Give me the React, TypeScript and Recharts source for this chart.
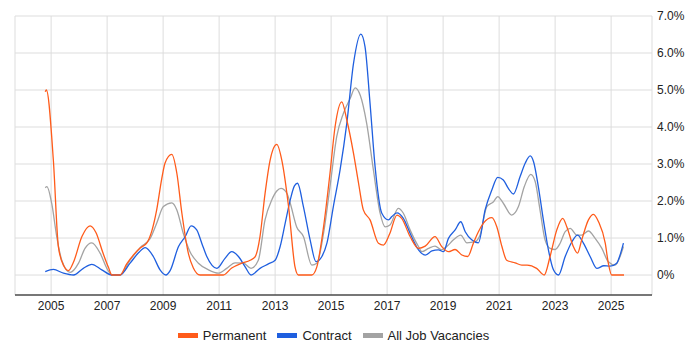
import React from "react";
import {
  LineChart,
  Line,
  XAxis,
  YAxis,
  CartesianGrid,
  Legend,
} from "recharts";

// values, per series (year -> % of vacancies)
const permYears = [
  2004.79, 2004.83, 2005.08, 2005.26, 2005.45, 2005.62, 2005.8, 2006.1, 2006.39, 2006.6,
  2006.85, 2007.05, 2007.17, 2007.46, 2007.7, 2007.95, 2008.18, 2008.42, 2008.6, 2008.77,
  2008.95, 2009.07, 2009.31, 2009.49, 2009.67, 2009.9, 2010.08, 2010.32, 2011.15, 2011.45,
  2011.81, 2012.11, 2012.29, 2012.46, 2012.64, 2012.82, 2013.06, 2013.24, 2013.48, 2013.71,
  2013.83, 2014.31, 2014.49, 2014.73, 2014.96, 2015.14, 2015.38, 2015.56, 2015.8, 2015.98,
  2016.15, 2016.39, 2016.69, 2016.87, 2017.1, 2017.35, 2017.52, 2017.82, 2018.12, 2018.36,
  2018.71, 2018.95, 2019.19, 2019.43, 2019.67, 2019.88, 2020.08, 2020.26, 2020.44, 2020.74,
  2020.92, 2021.1, 2021.27, 2021.57, 2021.81, 2022.0, 2022.34, 2022.61, 2022.82, 2023.06,
  2023.27, 2023.42, 2023.65, 2023.8, 2023.95, 2024.19, 2024.37, 2024.55, 2024.79, 2024.9,
  2025.02, 2025.46,
];
const permValues = [
  4.95, 5.0, 3.1, 0.76, 0.25, 0.12, 0.35, 1.04, 1.33, 1.15,
  0.6, 0.2, 0, 0, 0.3, 0.55, 0.73, 0.87, 1.2, 1.76,
  2.6, 3.03, 3.26, 2.75, 1.67, 0.59, 0.19, 0, 0, 0.19,
  0.32, 0.4, 0.5, 1.04, 2.2, 3.1, 3.53, 3.1, 1.85, 0.22,
  0, 0, 0.22, 1.3, 2.75, 4.0, 4.68, 4.19, 3.29, 2.48,
  1.76, 1.49, 0.86, 0.81, 1.13, 1.62, 1.53, 1.04, 0.72, 0.78,
  1.04, 0.77, 0.63, 0.69, 0.54, 0.5, 0.86, 1.17, 1.4, 1.55,
  1.3, 0.77, 0.4, 0.33, 0.27, 0.27, 0.18, 0, 0.5, 1.22,
  1.53, 1.3, 0.77, 0.59, 0.95, 1.49, 1.64, 1.44, 0.86, 0.32,
  0, 0,
];

const contractYears = [
  2004.79, 2005.08, 2005.44, 2005.8, 2006.15, 2006.45, 2006.81, 2007.17, 2007.46, 2007.82,
  2008.12, 2008.36, 2008.65, 2008.89, 2009.1, 2009.25, 2009.55, 2009.79, 2010.0, 2010.2,
  2010.38, 2010.56, 2010.92, 2011.21, 2011.45, 2011.69, 2011.93, 2012.14, 2012.46, 2012.76,
  2013.0, 2013.18, 2013.36, 2013.54, 2013.69, 2013.8, 2014.01, 2014.25, 2014.46, 2014.67,
  2014.85, 2015.08, 2015.32, 2015.56, 2015.8, 2016.06, 2016.21, 2016.39, 2016.57, 2016.81,
  2017.05, 2017.17, 2017.35, 2017.58, 2017.82, 2018.12, 2018.36, 2018.6, 2018.83, 2019.01,
  2019.19, 2019.43, 2019.63, 2019.79, 2020.02, 2020.26, 2020.5, 2020.74, 2020.95, 2021.15,
  2021.33, 2021.51, 2021.75, 2021.93, 2022.11, 2022.23, 2022.4, 2022.58, 2022.76, 2022.94,
  2023.12, 2023.36, 2023.6, 2023.8, 2024.01, 2024.25, 2024.49, 2024.74, 2024.96, 2025.2,
  2025.32, 2025.44,
];
const contractValues = [
  0.09, 0.15, 0.05, 0, 0.18, 0.29, 0.14, 0, 0, 0.32,
  0.6, 0.74, 0.5, 0.14, 0, 0.12, 0.77, 1.04, 1.33, 1.22,
  0.86, 0.5, 0.18, 0.45, 0.63, 0.5, 0.22, 0, 0.18, 0.3,
  0.4, 0.77, 1.4, 2.03, 2.41, 2.48, 1.85, 0.95, 0.36, 0.5,
  0.86, 1.85, 2.84, 4.1, 5.72, 6.51, 6.17, 4.64, 2.93, 1.67,
  1.49, 1.58, 1.68, 1.53, 1.13, 0.68, 0.54, 0.65, 0.68, 0.63,
  0.99, 1.22, 1.44, 1.17, 0.95, 0.87, 1.76, 2.3, 2.64, 2.57,
  2.34, 2.19, 2.66, 3.02, 3.22, 3.06, 2.39, 1.49, 0.68, 0.14,
  0, 0.5, 0.9, 1.08, 0.86, 0.5, 0.18, 0.25, 0.24, 0.32,
  0.54, 0.86,
];

const allYears = [
  2004.79, 2004.85, 2005.02, 2005.2, 2005.38, 2005.68, 2005.98, 2006.21, 2006.45, 2006.75,
  2006.99, 2007.17, 2007.46, 2007.82, 2008.18, 2008.54, 2008.77, 2009.01, 2009.31, 2009.49,
  2009.72, 2009.96, 2010.26, 2010.62, 2010.98, 2011.27, 2011.57, 2011.87, 2012.14, 2012.4,
  2012.64, 2012.88, 2013.06, 2013.21, 2013.42, 2013.54, 2013.77, 2014.01, 2014.31, 2014.49,
  2014.73, 2014.96, 2015.2, 2015.44, 2015.68, 2015.86, 2016.04, 2016.27, 2016.51, 2016.75,
  2016.93, 2017.1, 2017.4, 2017.58, 2017.82, 2018.12, 2018.24, 2018.48, 2018.71, 2018.95,
  2019.13, 2019.37, 2019.63, 2019.85, 2020.14, 2020.32, 2020.56, 2020.8, 2020.95, 2021.15,
  2021.45, 2021.69, 2021.9, 2022.13, 2022.29, 2022.46, 2022.64, 2022.82, 2023.0, 2023.18,
  2023.36, 2023.54, 2023.77, 2023.95, 2024.19, 2024.43, 2024.67, 2024.9, 2025.14, 2025.32,
  2025.44,
];
const allValues = [
  2.36, 2.39, 1.94, 1.04, 0.4, 0.07, 0.32, 0.72, 0.87, 0.59,
  0.18, 0, 0, 0.4, 0.74, 0.99, 1.4, 1.85, 1.95, 1.76,
  1.13, 0.63, 0.32, 0.14, 0.05, 0.18, 0.33, 0.32, 0.18, 0.4,
  1.49, 2.03, 2.27, 2.34, 2.21, 1.94, 1.3, 1.04, 0.27, 0.32,
  1.13, 2.39, 3.74, 4.37, 4.77, 5.06, 4.86, 4.1, 2.84, 1.67,
  1.3, 1.35, 1.8, 1.67, 1.22, 0.77, 0.63, 0.72, 0.78, 0.68,
  0.77, 0.95, 1.08, 0.87, 0.9, 1.08, 1.85, 1.98, 2.12, 1.94,
  1.62, 1.85, 2.39, 2.72, 2.52, 1.76, 0.95, 0.72, 0.69, 0.86,
  1.17, 1.26, 1.08, 1.08, 1.19, 0.99, 0.72, 0.36, 0.27, 0.5,
  0.77,
];

const xTicks = [2005, 2007, 2009, 2011, 2013, 2015, 2017, 2019, 2021, 2023, 2025];
const yTicks = [0, 1, 2, 3, 4, 5, 6, 7];

const PERM = "#FF5B1A";
const CONTRACT = "#1F5FDF";
const ALL = "#A3A3A3";

const toRows = (years: number[], values: number[]) =>
  years.map((t, i) => ({ t, v: values[i] }));

const permData = toRows(permYears, permValues);
const contractData = toRows(contractYears, contractValues);
const allData = toRows(allYears, allValues);

const legendItems = [
  { name: "Permanent", color: PERM },
  { name: "Contract", color: CONTRACT },
  { name: "All Job Vacancies", color: ALL },
];

function LegendContent() {
  return (
    <div
      style={{
        display: "flex",
        justifyContent: "center",
        alignItems: "center",
        height: 20,
        fontSize: 13,
        color: "#222",
      }}
    >
      {legendItems.map((item, i) => (
        <div
          key={item.name}
          style={{ display: "flex", alignItems: "center", marginLeft: i ? 11 : 0 }}
        >
          <span
            style={{ display: "inline-block", width: 20, height: 5, background: item.color, marginRight: 5 }}
          />
          <span>{item.name}</span>
        </div>
      ))}
    </div>
  );
}

export default function App() {
  return (
    <div
      style={{
        position: "absolute",
        left: 0,
        top: 0,
        width: 700,
        height: 350,
        background: "#fff",
        fontFamily: '"Liberation Sans", Arial, sans-serif',
      }}
    >
      <LineChart
        width={700}
        height={350}
        margin={{ top: 16, right: 0, left: 15, bottom: 5 }}
      >
        <CartesianGrid stroke="#dddddd" />
        <XAxis
          dataKey="t"
          type="number"
          domain={[2003.71, 2026.46]}
          ticks={xTicks}
          allowDataOverflow
          height={30}
          tickLine={false}
          tickSize={4}
          axisLine={{ stroke: "#000" }}
          tick={{ fontSize: 12, fill: "#222" }}
        />
        <YAxis
          orientation="right"
          type="number"
          domain={[-0.54, 7]}
          ticks={yTicks}
          allowDataOverflow
          width={48}
          axisLine={false}
          tickLine={false}
          tickSize={3}
          tickMargin={2}
          tick={{ fontSize: 12, fill: "#222", textAnchor: "start" }}
          tickFormatter={(v: number) => (v === 0 ? "0%" : v.toFixed(1) + "%")}
        />
        <Legend
          verticalAlign="bottom"
          content={<LegendContent />}
          wrapperStyle={{ left: 15, width: 637 }}
        />
        <Line
          data={allData}
          dataKey="v"
          name="All Job Vacancies"
          type="monotone"
          stroke={ALL}
          strokeWidth={1.3}
          dot={false}
          isAnimationActive={false}
        />
        <Line
          data={contractData}
          dataKey="v"
          name="Contract"
          type="monotone"
          stroke={CONTRACT}
          strokeWidth={1.3}
          dot={false}
          isAnimationActive={false}
        />
        <Line
          data={permData}
          dataKey="v"
          name="Permanent"
          type="monotone"
          stroke={PERM}
          strokeWidth={1.3}
          dot={false}
          isAnimationActive={false}
        />
      </LineChart>
    </div>
  );
}
